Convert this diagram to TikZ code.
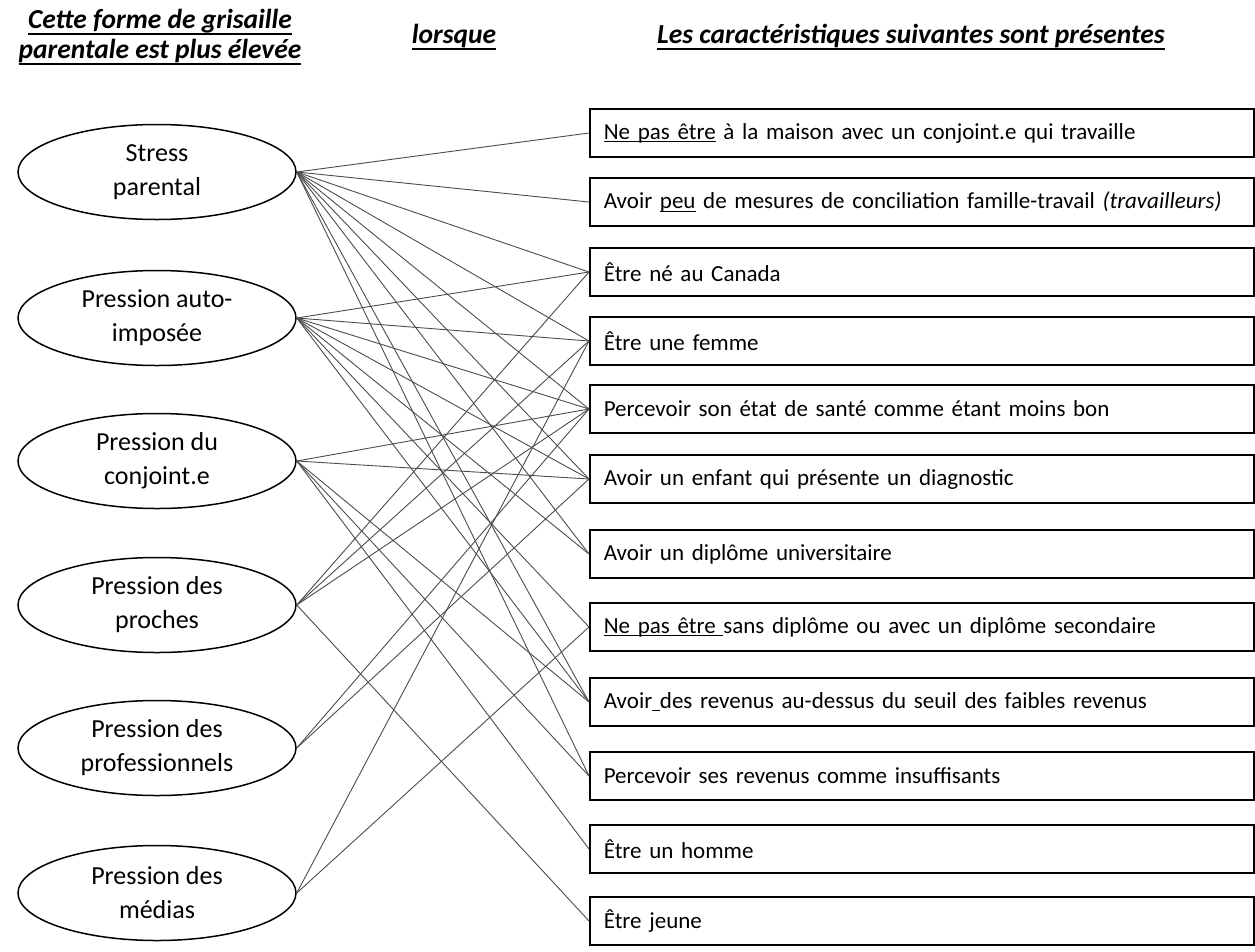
\documentclass[tikz,border=0pt]{standalone}
\usepackage{fontspec}
\setmainfont{Carlito}
\usetikzlibrary{shapes.geometric}

% soulignement : profondeur, epaisseur, texte
\newcommand{\soulig}[3]{\leavevmode\setbox0\hbox{#3}\rlap{\rule[#1]{\wd0}{#2}}\box0\relax}

\tikzset{
  facteur/.style={draw,ellipse,line width=1.5pt,minimum width=278pt,minimum height=95pt,
    inner sep=0pt,align=center,font=\fontsize{26}{34}\selectfont},
  carac/.style={draw,rectangle,line width=1.6pt,minimum height=48pt,inner xsep=14pt,
    text width=636pt,align=left,anchor=west,font=\fontsize{23}{27}\selectfont},
  lien/.style={black!70,line width=0.9pt},
  titre/.style={align=center,font=\fontsize{27.5}{30}\selectfont\bfseries\itshape}
}

\begin{document}
\begin{tikzpicture}[x=1pt,y=-1pt]
\useasboundingbox (0,0) rectangle (1255,951);
% titres
\node[titre] (t1) at (160,37) {\soulig{-6pt}{2pt}{Cette forme de grisaille}\\\soulig{-6pt}{2pt}{parentale est plus élevée}};
\node[titre] (t2) at (454,37) {\soulig{-6pt}{2pt}{lorsque}};
\node[titre] (t3) at (911,37) {\soulig{-6pt}{2pt}{Les caractéristiques suivantes sont présentes}};
% formes de grisaille
\foreach \nom/\y/\txt in {e1/172/{Stress\\parental},e2/318/{Pression auto-\\imposée},
  e3/461/{Pression du\\conjoint.e},e4/605/{Pression des\\proches},
  e5/748/{Pression des\\professionnels},e6/893/{Pression des\\médias}}
  \node[facteur] (\nom) at (157,\y) {\txt};
% caracteristiques
\node[carac] (b1) at (589,133) {\soulig{-3pt}{1pt}{Ne pas être} à la maison avec un conjoint.e qui travaille};
\node[carac] (b2) at (589,202) {Avoir \soulig{-3pt}{1pt}{peu} de mesures de conciliation famille-travail \textit{(travailleurs)}};
\node[carac] (b3) at (589,272) {Être né au Canada};
\node[carac] (b4) at (589,341) {Être une femme};
\node[carac] (b5) at (589,409) {Percevoir son état de santé comme étant moins bon};
\node[carac] (b6) at (589,479) {Avoir un enfant qui présente un diagnostic};
\node[carac] (b7) at (589,554) {Avoir un diplôme universitaire};
\node[carac] (b8) at (589,627) {\soulig{-3pt}{1pt}{Ne pas être\ }sans diplôme ou avec un diplôme secondaire};
\node[carac] (b9) at (589,702) {Avoir\soulig{-3pt}{1pt}{\ }des revenus au-dessus du seuil des faibles revenus};
\node[carac] (b10) at (589,776) {Percevoir ses revenus comme insuffisants};
\node[carac] (b11) at (589,849) {Être un homme};
\node[carac] (b12) at (589,921) {Être jeune};
% liens
\foreach \a/\b in {e1/b1,e1/b2,e1/b3,e1/b4,e1/b5,e1/b6,e1/b7,e1/b9,e1/b10,
  e2/b3,e2/b4,e2/b5,e2/b6,e2/b7,e2/b8,e2/b9,
  e3/b5,e3/b6,e3/b9,e3/b10,e3/b11,
  e4/b3,e4/b4,e4/b5,e4/b12,
  e5/b5,e5/b6,
  e6/b4,e6/b8}
  \draw[lien] (\a.east) -- (\b.west);
\end{tikzpicture}
\end{document}
